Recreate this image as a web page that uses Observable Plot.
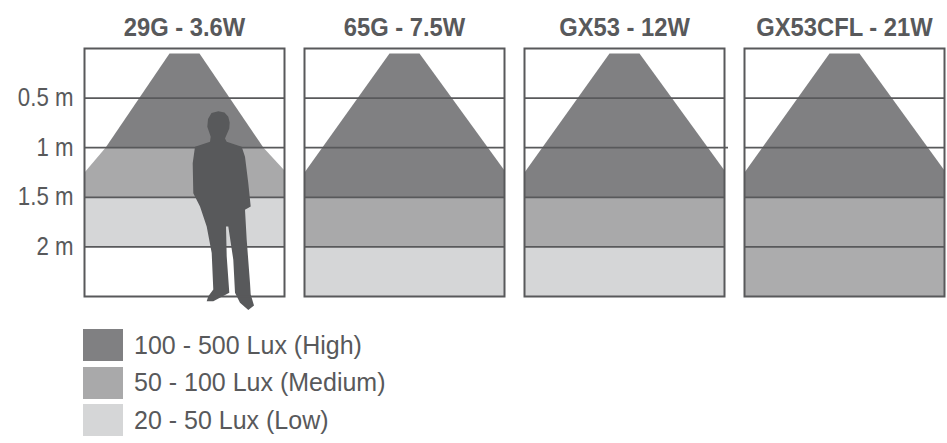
<!DOCTYPE html>
<html><head><meta charset="utf-8">
<script src="https://cdn.jsdelivr.net/npm/d3@7"></script>
<script src="https://cdn.jsdelivr.net/npm/@observablehq/plot@0.6"></script>
<style>
body{margin:0;background:#fff;font-family:"Liberation Sans",sans-serif;color:#58595b}
#legend{margin-left:83px;margin-top:14px}
.row{display:flex;align-items:center;height:32px;margin-bottom:5.5px;font-size:25px}
.sw{width:40px;height:32px;margin-right:11px}
</style></head><body>
<div id="chart"></div><div id="legend"></div>
<script>
const lamps = ["29G - 3.6W","65G - 7.5W","GX53 - 12W","GX53CFL - 21W"];
const distances = [0.5,1,1.5,2];
const levels = ["100 - 500 Lux (High)","50 - 100 Lux (Medium)","20 - 50 Lux (Low)"];
const colors = ["#808082","#a9a9aa","#d5d6d7"];
// light beam outline: half-width (relative to panel) against distance (m)
const beamX = [-0.15,0.15,1,1,-1,-1];
const beamY = [0.05,0.05,1.23,1.5,1.5,1.25];
const beamX1 = [-0.15,0.15,0.79,-0.79];
const beamY1 = [0.05,0.05,1,1];
const medX1 = [-0.79,0.79,1,1,-1,-1];
const medY1 = [1,1,1.23,1.5,1.5,1.25];
// person silhouette
const personX = [.338,.400,.438,.452,.448,.405,.422,.572,.605,.638,.662,.605,.622,.655,.662,.695,.638,.555,.505,.488,.438,.415,.422,.448,.288,.222,.238,.288,.272,.222,.155,.088,.082,.105,.255,.262,.228,.235,.270];
const personY = [.633,.645,.689,.745,.807,.907,.940,.991,1.091,1.359,1.593,1.626,1.928,2.363,2.480,2.590,2.637,2.564,2.463,2.129,1.794,1.794,2.095,2.463,2.547,2.547,2.497,2.430,2.062,1.794,1.593,1.459,1.158,.991,.940,.890,.790,.710,.650];
const lineEnd = {"GX53 - 12W":1.04};

const poly=(xs,ys,lamp,color,z)=>xs.map((x,i)=>({x,y:ys[i],lamp,color,z}));
const beams=[
  ...poly(beamX1,beamY1,lamps[0],colors[0],"a"),
  ...poly(medX1,medY1,lamps[0],colors[1],"b"),
  ...lamps.slice(1).flatMap(l=>poly(beamX,beamY,l,colors[0],l))
];
const zoneRects=[
  {lamp:lamps[0],y1:1.5,y2:2,color:colors[2]},
  ...lamps.slice(1).map(lamp=>({lamp,y1:1.5,y2:2,color:colors[1]})),
  {lamp:lamps[1],y1:2,y2:2.5,color:colors[2]},
  {lamp:lamps[2],y1:2,y2:2.5,color:colors[2]},
  {lamp:lamps[3],y1:2,y2:2.5,color:"#acacad"}
];
const rules=lamps.flatMap(lamp=>distances.map(y=>({lamp,y,x1:-1,x2:(y===1&&lineEnd[lamp])||1})));
const person=personX.map((x,i)=>({x,y:personY[i],lamp:lamps[0]}));

const plot=Plot.plot({
  width:947,height:315,
  marginLeft:83.5,marginRight:2,marginTop:48,marginBottom:19,
  style:{fontFamily:'"Liberation Sans",sans-serif',color:"#58595b",background:"#fff",overflow:"visible"},
  x:{domain:[-1,1],axis:null},
  y:{domain:[0,2.5],reverse:true},
  fx:{domain:lamps,padding:0.09,label:null},
  marks:[
    Plot.rect(zoneRects,{fx:"lamp",x1:-1,x2:1,y1:"y1",y2:"y2",fill:"color"}),
    Plot.line(beams,{fx:"lamp",x:"x",y:"y",z:"z",fill:"color",stroke:null}),
    Plot.ruleY(rules,{fx:"lamp",y:"y",x1:"x1",x2:"x2",stroke:"#58595b",strokeWidth:1.8}),
    Plot.line(person,{fx:"lamp",x:"x",y:"y",fill:"#58595b",stroke:null}),
    Plot.frame({stroke:"#58595b",strokeWidth:2}),
    Plot.axisY({ticks:distances,tickFormat:d=>d+" m",tickSize:0,tickPadding:11,label:null,fontSize:25,fill:"#58595b"}),
    Plot.axisFx({anchor:"top",tickSize:0,tickPadding:13,label:null,fontSize:25,fontWeight:"bold",fill:"#58595b"})
  ]
});
document.getElementById("chart").append(plot);
// condensed look of the original typeface
const condense=(sel,k)=>plot.querySelectorAll(sel).forEach(t=>{
  t.setAttribute("textLength",t.getComputedTextLength()*k);
  t.setAttribute("lengthAdjust","spacingAndGlyphs");
});
condense('[aria-label="y-axis tick label"] text',0.89);
condense('[aria-label="fx-axis tick label"] text',0.95);
const leg=document.getElementById("legend");
levels.forEach((t,i)=>{
  const r=document.createElement("div");r.className="row";
  const s=document.createElement("div");s.className="sw";s.style.background=colors[i];
  const l=document.createElement("span");l.textContent=t;
  r.append(s,l);leg.append(r);
});
</script></body></html>
